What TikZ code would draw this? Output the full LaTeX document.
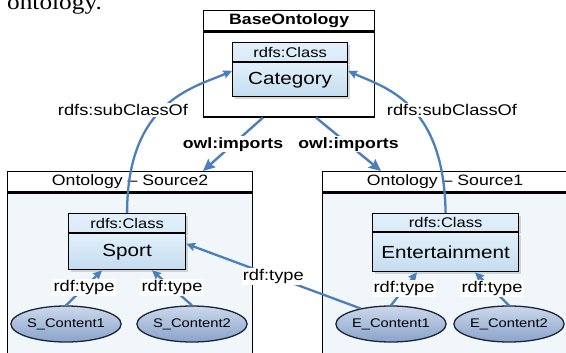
\documentclass[tikz,border=0pt]{standalone}
\usepackage{fontspec}
\setmainfont{Liberation Sans}[FakeStretch=1.18]
\newfontfamily\paperfont{Liberation Serif}[FakeStretch=1.15]
\usetikzlibrary{arrows.meta,calc,shadows,shapes.geometric}
\definecolor{linkblue}{HTML}{4A7EBF}
\definecolor{clsTop}{HTML}{E2F0FB}
\definecolor{clsBot}{HTML}{C4DCF0}
\definecolor{instTop}{HTML}{CCD9EC}
\definecolor{instBot}{HTML}{8AA3CA}
\definecolor{pkgFill}{HTML}{F1F6FB}
\definecolor{instLine}{HTML}{1C2438}

\begin{document}
\begin{tikzpicture}[x=1pt,y=-1pt,
  pkghead/.style={draw=black, line width=1.3pt, fill=white, inner sep=0pt,
    anchor=north west, minimum height=20pt, font=\fontsize{15}{17}\selectfont},
  pkgbody/.style={draw=black, line width=1.3pt, fill=pkgFill, inner sep=0pt,
    anchor=north west},
  clsshadow/.style={drop shadow={shadow xshift=2.5pt, shadow yshift=-2.5pt, fill=black!30}},
  clshead/.style={draw=black, line width=1.2pt, top color=clsTop, bottom color=clsTop!70!clsBot,
    inner sep=0pt, anchor=north west, clsshadow, font=\fontsize{14}{16}\selectfont},
  clsbody/.style={draw=black, line width=1.2pt, top color=clsTop, bottom color=clsBot,
    inner sep=0pt, anchor=north west, clsshadow, font=\fontsize{17.5}{19}\selectfont},
  inst/.style={ellipse, draw=instLine, line width=1.3pt, top color=instTop, bottom color=instBot,
    minimum width=100pt, minimum height=36pt, inner sep=0pt, font=\fontsize{12.5}{14}\selectfont},
  lbl/.style={fill=white, inner sep=1.2pt, font=\fontsize{15.5}{17}\selectfont},
  implbl/.style={fill=white, inner sep=1.2pt, font=\bfseries\fontsize{15}{17}\selectfont},
  link/.style={draw=linkblue, line width=2.3pt, -{Stealth[length=9pt,width=8.5pt,inset=1.5pt]}},
  implink/.style={draw=linkblue, line width=2.4pt, -{Stealth[length=12pt,width=11pt,inset=2pt]}}
]
\useasboundingbox (0,0) rectangle (566,353);
\clip (0,0) rectangle (566,353);
\fill[white] (0,0) rectangle (566,353);

% running text of the page above the figure
\node[anchor=base west, inner sep=0pt, font=\paperfont\fontsize{22}{24}\selectfont] (para) at (7,10) {ontology.};

% base ontology package
\node[pkghead, minimum width=171pt, font=\bfseries\fontsize{15}{17}\selectfont] (basehd) at (203,10) {BaseOntology};
\node[pkgbody, fill=white, minimum width=171pt, minimum height=85pt] (base) at (basehd.south west) {};
\node[clshead, minimum width=115pt, minimum height=19pt] (cath) at (232,42) {rdfs:Class};
\node[clsbody, minimum width=115pt, minimum height=34pt] (cat) at (cath.south west) {Category};

% source packages
\node[pkghead, minimum width=245pt] (src2h) at (7,171) {Ontology -- Source2};
\node[pkgbody, minimum width=245pt, minimum height=180pt] (src2) at (src2h.south west) {};
\node[pkghead, minimum width=245pt] (src1h) at (322,171) {Ontology -- Source1};
\node[pkgbody, minimum width=245pt, minimum height=180pt] (src1) at (src1h.south west) {};

% classes
\node[clshead, minimum width=117pt, minimum height=19pt] (sporth) at (68,213) {rdfs:Class};
\node[clsbody, minimum width=117pt, minimum height=36pt] (sport) at (sporth.south west) {Sport};
\node[clshead, minimum width=146pt, minimum height=18pt] (enth) at (372,213) {rdfs:Class};
\node[clsbody, minimum width=146pt, minimum height=39pt] (ent) at (enth.south west) {Entertainment};

% instances
\node[inst] (sc1) at (66,324) {S\_Content1};
\node[inst] (sc2) at (192,324) {S\_Content2};
\node[inst] (ec1) at (391,324) {E\_Content1};
\node[inst] (ec2) at (509,324) {E\_Content2};

% imports
\draw[implink] ([xshift=60pt]base.south west) -- node[implbl] (imp2) {owl:imports} ([xshift=196pt]src2h.north west);
\draw[implink] ([xshift=113pt]base.south west) -- node[implbl] (imp1) {owl:imports} ([xshift=59pt]src1h.north west);

% subclass relations
\draw[link] (sporth.north) .. controls (127,100) and (196,87) .. ([yshift=9pt]cat.west);
\draw[link] (enth.north) .. controls (444,100) and (382,87) .. ([yshift=9pt]cat.east);
\node[lbl] (sub2) at (123,110) {rdfs:subClassOf};
\node[lbl] (sub1) at (452,110) {rdfs:subClassOf};

% instance typing
\draw[link] (sc1.north) -- node[lbl] (t1) {rdf:type} ([xshift=34pt]sport.south west);
\draw[link] (sc2.north) -- node[lbl] (t2) {rdf:type} ([xshift=84pt]sport.south west);
\draw[link] (ec1.north) -- node[lbl] (t3) {rdf:type} ([xshift=45pt]ent.south west);
\draw[link] (ec2.north) -- node[lbl] (t4) {rdf:type} ([xshift=103pt]ent.south west);
\draw[link] (ec1.153) -- node[lbl] (t5) {rdf:type} ([yshift=8pt]sport.east);
\end{tikzpicture}
\end{document}
